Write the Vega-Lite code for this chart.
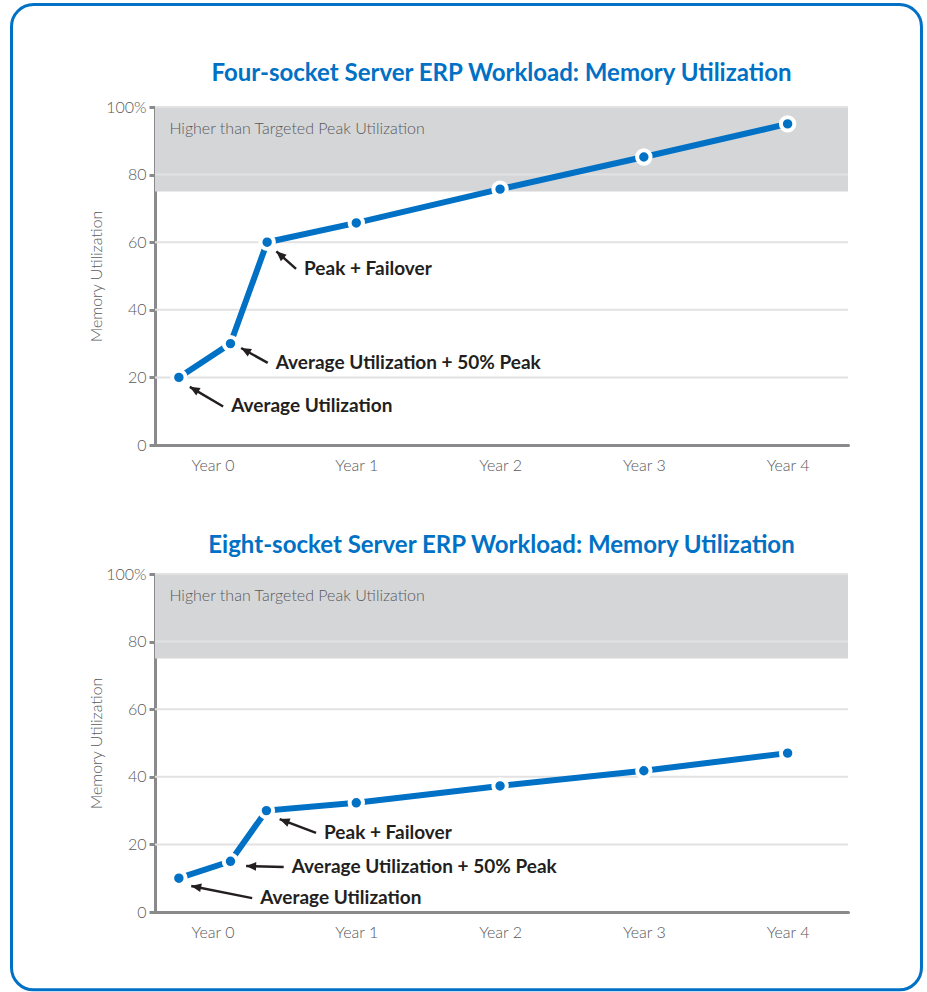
{
  "$schema": "https://vega.github.io/schema/vega-lite/v6.json",
  "background": "white",
  "padding": {"left": 10, "top": 3, "right": 4, "bottom": 0},
  "bounds": "flush",
  "spacing": 129,
  "config": {
    "font": "Lato",
    "view": {"stroke": null},
    "title": {"font": "Lato", "fontSize": 24, "fontWeight": "bold", "color": "#0071c5", "anchor": "middle"},
    "axis": {
      "labelFont": "Lato", "labelFontSize": 16, "labelFontWeight": 300, "labelColor": "#58595b",
      "titleFont": "Lato", "titleFontSize": 16, "titleFontWeight": 300, "titleColor": "#58595b",
      "domainColor": "#8a8a8c", "domainWidth": 3, "domainCap": "round",
      "tickColor": "#8a8a8c", "tickWidth": 3, "tickSize": 6, "grid": false, "zindex": 1
    }
  },
  "datasets": {
    "frame": [{"x": -1.398, "x2": 4.931, "y": 130.3, "y2": -161.2}],
    "band": [{"x": -0.4, "x2": 4.42, "y": 75, "y2": 100}],
    "bandLabel": [{"x": -0.3, "y": 93.5, "label": "Higher than Targeted Peak Utilization"}],
    "grid": [
      {"x": -0.4, "x2": 4.42, "y": 20},
      {"x": -0.4, "x2": 4.42, "y": 40},
      {"x": -0.4, "x2": 4.42, "y": 60},
      {"x": -0.4, "x2": 4.42, "y": 80},
      {"x": -0.4, "x2": 4.42, "y": 100}
    ],
    "four": [
      {"x": -0.234, "y": 20},
      {"x": 0.125, "y": 30},
      {"x": 0.38, "y": 60},
      {"x": 1, "y": 65.7},
      {"x": 2, "y": 75.7},
      {"x": 3, "y": 85.2},
      {"x": 4, "y": 95}
    ],
    "eight": [
      {"x": -0.234, "y": 10},
      {"x": 0.125, "y": 15},
      {"x": 0.375, "y": 30},
      {"x": 1, "y": 32.3},
      {"x": 2, "y": 37.3},
      {"x": 3, "y": 41.8},
      {"x": 4, "y": 47}
    ],
    "fourNotes": [
      {"label": "Peak + Failover", "x": 0.581, "y": 52.1, "x2": 0.444, "y2": 57.3, "dir": 312},
      {"label": "Average Utilization + 50% Peak", "x": 0.384, "y": 24.3, "x2": 0.199, "y2": 28.7, "dir": 299},
      {"label": "Average Utilization", "x": 0.074, "y": 11.4, "x2": -0.158, "y2": 17.2, "dir": 300}
    ],
    "eightNotes": [
      {"label": "Peak + Failover", "x": 0.72, "y": 23.4, "x2": 0.467, "y2": 27.5, "dir": 291},
      {"label": "Average Utilization + 50% Peak", "x": 0.495, "y": 13.3, "x2": 0.234, "y2": 13.6, "dir": 272},
      {"label": "Average Utilization", "x": 0.276, "y": 4.1, "x2": -0.148, "y2": 7.7, "dir": 281}
    ]
  },
  "vconcat": [
    {
      "title": {"text": "Four-socket Server ERP Workload: Memory Utilization", "offset": -83},
      "width": 693,
      "height": 338,
      "encoding": {
        "x": {"field": "x", "type": "quantitative", "scale": {"domain": [-0.4, 4.42], "nice": false, "zero": false},
              "axis": {"values": [0, 1, 2, 3, 4], "labelExpr": "'Year ' + datum.value", "ticks": false, "labelPadding": 12, "title": null}},
        "y": {"field": "y", "type": "quantitative", "scale": {"domain": [0, 100], "nice": false},
              "axis": {"values": [0, 20, 40, 60, 80, 100], "labelExpr": "datum.value == 100 ? '100%' : datum.label", "title": "Memory Utilization", "labelPadding": 3, "titlePadding": 1}}
      },
      "layer": [
        {"data": {"name": "frame"}, "mark": {"type": "rect", "filled": false, "stroke": "#0071c5", "strokeWidth": 3, "cornerRadius": 22}, "encoding": {"x2": {"field": "x2"}, "y2": {"field": "y2"}}},
        {"data": {"name": "band"}, "mark": {"type": "rect", "color": "#d5d6d8"}, "encoding": {"x2": {"field": "x2"}, "y2": {"field": "y2"}}},
        {"data": {"name": "bandLabel"}, "mark": {"type": "text", "align": "left", "baseline": "middle", "font": "Lato", "fontSize": 16, "fontWeight": 300, "color": "#58595b"}, "encoding": {"text": {"field": "label"}}},
        {"data": {"name": "grid"}, "mark": {"type": "rule", "color": "#e2e2e2", "strokeWidth": 2}, "encoding": {"x2": {"field": "x2"}}},
        {"data": {"name": "four"}, "mark": {"type": "line", "color": "#0071c5", "strokeWidth": 6}},
        {"data": {"name": "four"}, "mark": {"type": "point", "filled": true, "color": "#0071c5", "size": 180, "stroke": "white", "strokeWidth": 4, "opacity": 1}},
        {"data": {"name": "fourNotes"}, "mark": {"type": "rule", "color": "#231f20", "strokeWidth": 2.5}, "encoding": {"x2": {"field": "x2"}, "y2": {"field": "y2"}}},
        {"data": {"name": "fourNotes"}, "mark": {"type": "point", "shape": "M0,0L1,2.3L-1,2.3Z", "filled": true, "color": "#231f20", "size": 75, "opacity": 1},
         "encoding": {"x": {"field": "x2", "type": "quantitative"}, "y": {"field": "y2", "type": "quantitative"}, "angle": {"field": "dir", "type": "quantitative", "scale": null}}},
        {"data": {"name": "fourNotes"}, "mark": {"type": "text", "align": "left", "baseline": "middle", "dx": 8, "font": "Lato", "fontSize": 19, "fontWeight": "bold", "color": "#231f20"}, "encoding": {"text": {"field": "label"}}}
      ]
    },
    {
      "title": {"text": "Eight-socket Server ERP Workload: Memory Utilization", "offset": 8},
      "width": 693,
      "height": 338,
      "encoding": {
        "x": {"field": "x", "type": "quantitative", "scale": {"domain": [-0.4, 4.42], "nice": false, "zero": false},
              "axis": {"values": [0, 1, 2, 3, 4], "labelExpr": "'Year ' + datum.value", "ticks": false, "labelPadding": 12, "title": null}},
        "y": {"field": "y", "type": "quantitative", "scale": {"domain": [0, 100], "nice": false},
              "axis": {"values": [0, 20, 40, 60, 80, 100], "labelExpr": "datum.value == 100 ? '100%' : datum.label", "title": "Memory Utilization", "labelPadding": 3, "titlePadding": 1}}
      },
      "layer": [
        {"data": {"name": "band"}, "mark": {"type": "rect", "color": "#d5d6d8"}, "encoding": {"x2": {"field": "x2"}, "y2": {"field": "y2"}}},
        {"data": {"name": "bandLabel"}, "mark": {"type": "text", "align": "left", "baseline": "middle", "font": "Lato", "fontSize": 16, "fontWeight": 300, "color": "#58595b"}, "encoding": {"text": {"field": "label"}}},
        {"data": {"name": "grid"}, "mark": {"type": "rule", "color": "#e2e2e2", "strokeWidth": 2}, "encoding": {"x2": {"field": "x2"}}},
        {"data": {"name": "eight"}, "mark": {"type": "line", "color": "#0071c5", "strokeWidth": 6}},
        {"data": {"name": "eight"}, "mark": {"type": "point", "filled": true, "color": "#0071c5", "size": 180, "stroke": "white", "strokeWidth": 4, "opacity": 1}},
        {"data": {"name": "eightNotes"}, "mark": {"type": "rule", "color": "#231f20", "strokeWidth": 2.5}, "encoding": {"x2": {"field": "x2"}, "y2": {"field": "y2"}}},
        {"data": {"name": "eightNotes"}, "mark": {"type": "point", "shape": "M0,0L1,2.3L-1,2.3Z", "filled": true, "color": "#231f20", "size": 75, "opacity": 1},
         "encoding": {"x": {"field": "x2", "type": "quantitative"}, "y": {"field": "y2", "type": "quantitative"}, "angle": {"field": "dir", "type": "quantitative", "scale": null}}},
        {"data": {"name": "eightNotes"}, "mark": {"type": "text", "align": "left", "baseline": "middle", "dx": 8, "font": "Lato", "fontSize": 19, "fontWeight": "bold", "color": "#231f20"}, "encoding": {"text": {"field": "label"}}}
      ]
    }
  ]
}
